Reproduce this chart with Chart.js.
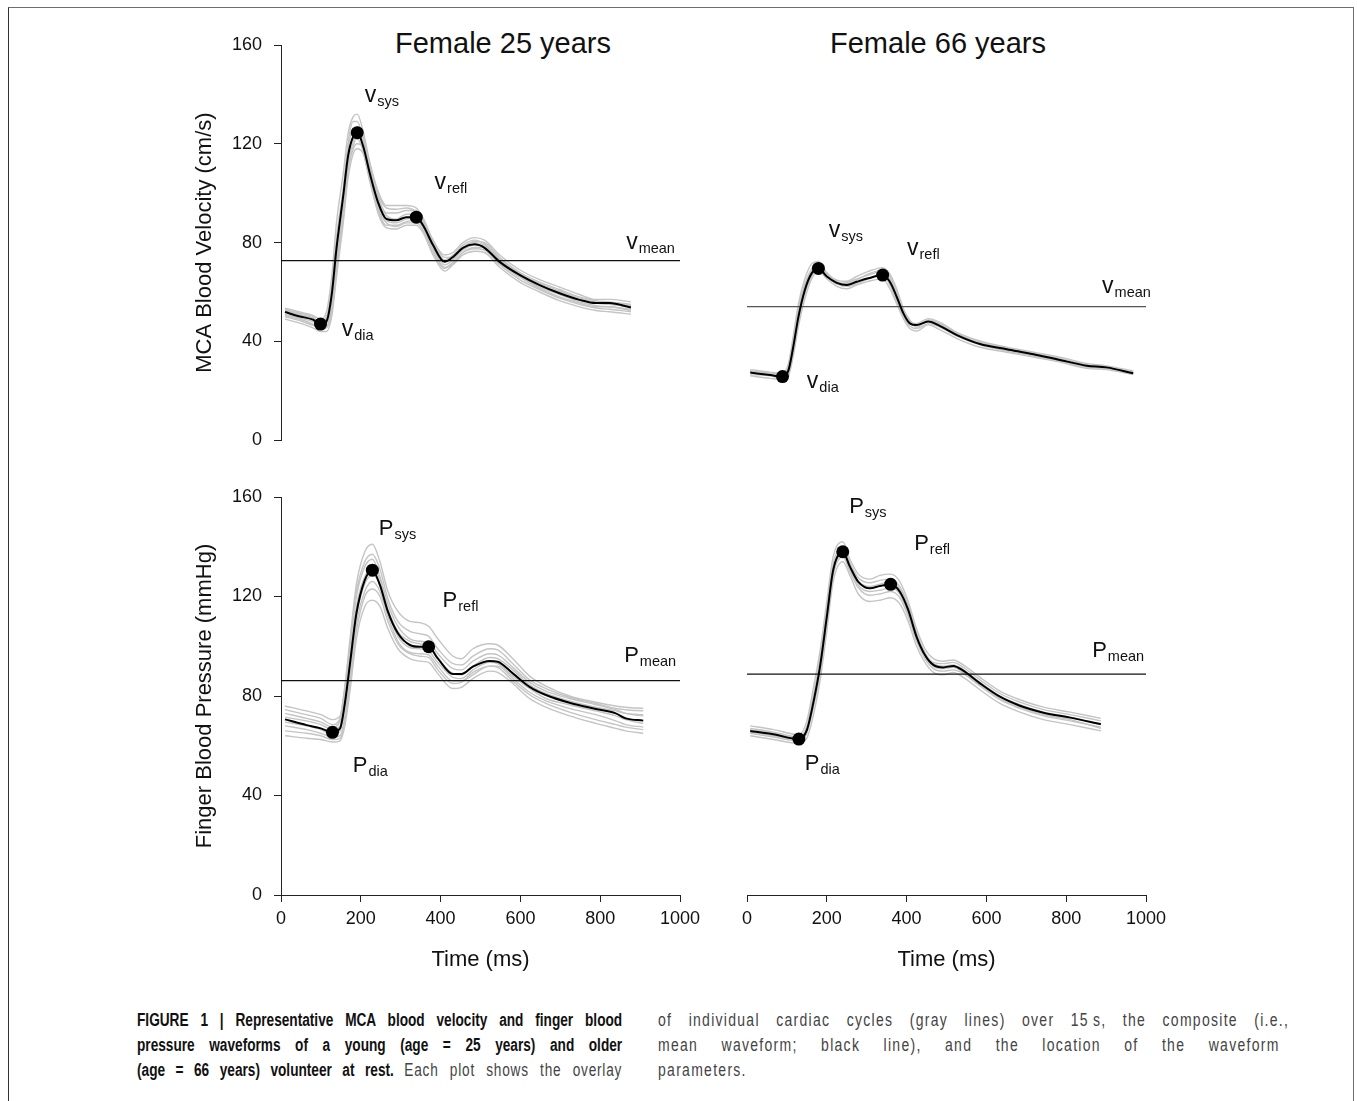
<!DOCTYPE html>
<html>
<head>
<meta charset="utf-8">
<title>MCA blood velocity and finger blood pressure waveforms</title>
<script src="https://cdn.jsdelivr.net/npm/chart.js@4.4.1/dist/chart.umd.min.js"></script>
<style>
  html, body { margin: 0; padding: 0; background: #fff; }
  body { width: 1357px; height: 1101px; position: relative; overflow: hidden;
         font-family: "Liberation Sans", Arial, Helvetica, sans-serif; color: #111; }
  .frame { position: absolute; left: 8px; top: 7px; width: 1346px; height: 1200px;
           box-sizing: border-box; border: 1.5px solid #6e6e6e; border-left-color: #333; }
  .panel { position: absolute; }
  .ptitle { position: absolute; width: 400px; text-align: center; font-size: 29px; line-height: 29px; color: #111; }
  .cap { position: absolute; font-family: "Liberation Sans", Arial, sans-serif;
         font-size: 17.5px; line-height: 25px; color: #444; transform-origin: 0 0; }
  .cap .ln { text-align: justify; text-align-last: justify; }
  .cap .ln.last { text-align: left; text-align-last: left; }
  .cap b { color: #111; letter-spacing: 0; }
  .cap.narrow { transform: scaleX(0.78); width: 622px; }
  .cap.narrow .reg { letter-spacing: 1px; }
  .cap.plain { transform: scaleX(0.8); width: 789px; letter-spacing: 1.6px; }
</style>
</head>
<body>
<div class="frame"></div>
<div class="ptitle" style="left:303px; top:29px;">Female 25 years</div>
<div class="ptitle" style="left:738px; top:29px;">Female 66 years</div>

<div class="cap narrow" style="left:137px; top:1008px;">
  <div class="ln"><b>FIGURE 1 | Representative MCA blood velocity and finger blood</b></div>
  <div class="ln"><b>pressure waveforms of a young (age = 25 years) and older</b></div>
  <div class="ln"><b>(age = 66 years) volunteer at rest.</b> <span class="reg">Each plot shows the overlay</span></div>
</div>
<div class="cap plain" style="left:658px; top:1008px;">
  <div class="ln">of individual cardiac cycles (gray lines) over 15&#8201;s, the composite (i.e.,</div>
  <div class="ln" style="width:777px;">mean waveform; black line), and the location of the waveform</div>
  <div class="ln last">parameters.</div>
</div>

<script>
// ---------- data (time in ms, velocity in cm/s, pressure in mmHg) ----------

// Young subject (25 years), MCA blood velocity
const velYoungTime = [10, 45, 80, 99, 114, 127, 139, 156, 168, 181, 191, 206, 222, 243, 264, 289, 314, 339, 356, 381, 410, 431, 456, 485, 510, 548, 598, 648, 698, 748, 789, 823, 877];
const velYoungComposite = [51.9, 50.2, 48.8, 47.0, 48.1, 58.8, 77.6, 99, 115, 123, 124.5, 119, 108.4, 96.4, 89.6, 89, 90.3, 90.3, 87, 79, 72.2, 74.2, 77.9, 79.3, 77.9, 72.2, 66.9, 62.8, 59.5, 56.8, 55.5, 55.5, 53.7];
const velYoungCycles = [
  [53.5, 52, 50.5, 49, 52, 66, 88, 108, 124, 131, 132, 125, 113, 101, 95, 95, 95, 94, 90, 81, 75, 76, 80, 82, 81, 75, 69, 65, 62, 59, 57, 57, 56],
  [49, 47.5, 45.5, 44, 44, 50, 66, 88, 106, 116, 118, 116, 106, 92, 86, 85.5, 87, 87, 84, 75, 68.5, 71, 75, 76.5, 76, 70, 64, 60, 56.5, 54, 52.5, 52, 51],
  [52.5, 51, 49.5, 47.5, 47.5, 54, 72, 94, 112, 121, 127, 123, 111, 99, 92, 92, 93, 93, 89, 81, 74, 74, 78, 80.5, 80, 74, 68, 64, 61, 58, 56.5, 56, 55],
  [51, 49.5, 48, 46, 46, 52, 70, 93, 114, 122, 122, 117, 105, 93, 87, 87, 88.5, 89, 86, 77, 70, 72, 76, 78, 78, 71.5, 66, 61.5, 58, 55.5, 54, 54, 52.5],
  [52, 51, 49, 48, 50, 62, 82, 102, 118, 126, 125, 120, 110, 98, 91, 89.5, 91.5, 91.5, 88, 80, 73, 75, 79, 81, 79.5, 73.5, 67.5, 63.5, 60.5, 57.5, 56, 55.5, 54.5],
  [50.5, 49, 47, 45, 45.5, 51, 68, 90, 109, 119, 123, 121, 108, 95, 89, 88, 89.5, 90, 87.5, 78, 71, 73, 77, 79, 78.5, 72.5, 66.5, 62, 59, 56, 54.5, 54, 53],
  [53, 51.5, 50, 47, 49, 58, 78, 100, 120, 129, 129, 122, 112, 100, 94, 93.5, 94, 92.5, 88.5, 79.5, 72.5, 73.5, 78, 80, 79, 73, 67, 63, 60, 57, 55.5, 55, 54],
  [50, 48.5, 46.5, 45.5, 46, 55, 74, 96, 110, 118, 120, 118, 107, 94, 88, 86.5, 88, 88, 85, 76, 69.5, 71.5, 76, 77.5, 77, 71, 65, 61, 57.5, 55, 53.5, 53, 52]
];
const velYoungMarkers = [[99, 47.0], [191, 124.5], [339, 90.3]];   // dia, sys, refl
const velYoungMean = 72.7;

// Older subject (66 years), MCA blood velocity
const velOlderTime = [8, 58, 89, 104, 116, 129, 145, 162, 179, 200, 225, 250, 275, 304, 340, 358, 375, 392, 408, 425, 454, 484, 526, 584, 651, 718, 784, 851, 901, 968];
const velOlderComposite = [28.3, 27.3, 26.7, 29.3, 38.7, 50.8, 61.5, 68.2, 70.2, 66.9, 64.4, 63.5, 64.8, 66.2, 67.5, 64.8, 58.8, 52.1, 48.1, 47.4, 48.8, 47.0, 43.4, 39.8, 37.7, 35.7, 33.4, 31.1, 30.4, 28.0];
const velOlderCycles = [
  [29.5, 28.5, 28, 32, 43, 56, 66, 72, 73, 68, 65.5, 65, 67, 69, 70.5, 68, 62, 54, 49, 48, 50, 48.5, 44.5, 41, 38.5, 36.5, 34.5, 32, 31, 29],
  [27, 26, 25.5, 27, 35, 47, 58, 66, 69, 66, 63, 62, 63.5, 65, 66, 62, 56, 50, 46, 45, 47.5, 45.5, 42, 38.5, 36.5, 34.5, 32.5, 30, 29.5, 27.5],
  [28.5, 27.5, 27, 30.5, 41, 53, 63, 69, 71.5, 67.5, 64, 64.5, 66, 67.5, 69, 66, 60, 53.5, 49.5, 46.5, 49.5, 48, 44, 40.5, 38, 36, 34, 31.5, 30.5, 28.5],
  [27.5, 27, 26, 28, 37, 49, 60, 67, 70, 67, 64, 63, 64, 66, 68, 63.5, 57, 51, 47, 46, 48, 46.5, 43, 39.5, 37, 35, 33, 30.5, 30, 27.8],
  [29, 28, 27.5, 31, 42, 54, 64, 70, 72, 68.5, 65, 64, 65.5, 68, 69.5, 67, 61, 52.5, 48.5, 47.5, 49, 47.5, 44, 40, 37.5, 35.5, 33.5, 31, 30, 28.5]
];
const velOlderMarkers = [[89, 26.7], [179, 70.2], [340, 67.5]];
const velOlderMean = 54.8;

// Young subject (25 years), finger blood pressure
const bpYoungTime = [10, 64, 100, 129, 148, 160, 173, 189, 210, 229, 248, 268, 293, 323, 348, 370, 393, 431, 452, 481, 523, 543, 581, 623, 664, 723, 789, 839, 864, 908];
const bpYoungComposite = [70.6, 68.3, 67, 65.4, 67, 77, 93.1, 113.2, 126.6, 130.6, 124.6, 113.9, 105.2, 100.5, 99.8, 99.8, 95.1, 88.8, 88.8, 91.8, 94.1, 93.8, 89.1, 83.7, 80.4, 77.3, 74.8, 73, 71, 70.1];
const bpYoungCycles = [
  [76, 74, 72.5, 70.5, 72, 84, 103, 125, 138, 141, 134, 122, 114, 110, 109.5, 108, 103, 96, 95, 99, 101, 100.5, 95, 88, 84, 80, 77.5, 76, 75.5, 75],
  [64, 63, 62.5, 61.5, 62, 68, 82, 103, 116, 118.5, 116, 107, 99, 95, 94, 93.5, 89, 83, 83.5, 87, 90, 89.5, 85, 79, 75.5, 72, 69, 67, 66, 65],
  [73, 71, 69.5, 67.5, 70, 82, 100, 120, 132, 135, 128, 117, 108, 103, 102, 101.5, 97, 91, 90.5, 94, 97, 96.5, 91.5, 85.5, 82, 79, 76.5, 74.5, 73, 72],
  [68, 66.5, 65, 63.5, 64, 72, 88, 109, 122, 126, 122, 112, 102, 97.5, 97, 96.5, 92, 86, 86, 89.5, 92, 92, 87, 81.5, 78, 75, 72.5, 70, 68.5, 67.5],
  [71.5, 70, 68.5, 66.5, 68, 79, 96, 116, 128, 131, 127, 115, 106, 102, 101, 100, 95, 89, 88.5, 92, 95.5, 95, 90.5, 84.5, 81, 78, 75.5, 74, 73, 72.5],
  [66, 65, 64, 62.5, 63, 70, 85, 106, 120, 123, 120, 110, 101, 97, 96, 95.5, 90.5, 85, 85.5, 88.5, 92, 91.5, 86, 80.5, 77, 73.5, 70.5, 68.5, 67.5, 66.5],
  [74.5, 72.5, 71, 68.5, 71, 83, 101, 122, 134, 137, 131, 119, 110, 106, 105, 104, 99, 93, 92.5, 96, 99, 98.5, 93, 86.5, 83, 79.5, 77, 75, 74.5, 74],
  [69.5, 68, 66.5, 64.5, 66, 75, 92, 112, 125, 128.5, 125, 114, 104, 99.5, 99, 98, 93.5, 87.5, 87, 90.5, 93.5, 93, 88, 83, 79, 76.5, 74, 72, 70.5, 69]
];
const bpYoungMarkers = [[129, 65.4], [229, 130.6], [370, 99.8]];
const bpYoungMean = 86.2;

// Older subject (66 years), finger blood pressure
const bpOlderTime = [8, 66, 130, 150, 166, 183, 200, 216, 240, 258, 279, 308, 333, 360, 383, 404, 425, 446, 467, 492, 517, 542, 584, 634, 684, 743, 810, 887];
const bpOlderComposite = [65.9, 64.6, 62.7, 66.3, 77.1, 91.8, 111.8, 130.6, 138, 132, 125.9, 123.3, 124.2, 124.9, 121.9, 114.6, 103.8, 96.5, 92.5, 91.5, 92.1, 90.2, 85.1, 79.7, 76.1, 73.3, 71.3, 68.7];
const bpOlderCycles = [
  [68, 66.5, 64.5, 70, 83, 98, 118, 136, 142, 135, 129, 127, 128.5, 129, 126, 118, 107, 99, 95, 94, 94.5, 92.5, 87.5, 82, 78.5, 75.5, 73.5, 71],
  [64, 62.5, 61, 63, 72, 86, 106, 126, 134, 128.5, 121, 118, 118.5, 119.5, 117, 110, 100, 93.5, 89.5, 88.5, 89.5, 87.5, 82.5, 77, 73.5, 70.5, 68.5, 66],
  [67, 65.5, 63.5, 68, 80, 95, 115, 133, 140, 133.5, 127.5, 125.5, 126.5, 127, 124, 116.5, 105.5, 97.5, 93.5, 93, 93.5, 91.5, 86.5, 81, 77.5, 74.5, 72.5, 70],
  [65, 63.5, 62, 65, 75, 89, 109, 128.5, 136, 130, 123.5, 120.5, 121, 122, 119.5, 112, 102, 95, 91, 90, 90.5, 89, 84, 78.5, 75, 72, 70, 67.5],
  [66.5, 65, 63, 67, 78, 93, 113, 131, 139, 132, 126, 124, 125, 126, 123, 115.5, 104.5, 97, 93, 92, 92.5, 90.5, 85.5, 80, 76.5, 73.5, 71.5, 68.5],
  [65.5, 64, 62.5, 66, 76, 90, 110, 129.5, 137, 131, 124.5, 122, 122.5, 123.5, 121, 113, 103, 96, 92, 91, 91.5, 89.5, 84.5, 79, 75.5, 72.5, 70.5, 67]
];
const bpOlderMarkers = [[130, 62.7], [240, 138], [360, 124.9]];
const bpOlderMean = 88.8;

// Axis ticks
const timeTicks = [0, 200, 400, 600, 800, 1000];
const valueTicks = [0, 40, 80, 120, 160];

// ---------- drawing ----------
const FAMILY = '"Liberation Sans", Arial, Helvetica, sans-serif';
const INK = '#111';

// Parameter labels (letter with subscript), anchored in data units
const subLabelPlugin = {
  id: 'subLabels',
  afterDatasetsDraw(chart, args, opts) {
    const { ctx } = chart;
    const xs = chart.scales.x, ys = chart.scales.y;
    (opts.items || []).forEach(it => {
      const px = xs.getPixelForValue(it.x);
      const py = ys.getPixelForValue(it.y);
      ctx.save();
      ctx.fillStyle = INK;
      ctx.textAlign = 'left';
      ctx.textBaseline = 'alphabetic';
      ctx.font = (it.main === 'v' ? '23px ' : '22px ') + FAMILY;
      ctx.fillText(it.main, px, py);
      const w = ctx.measureText(it.main).width;
      ctx.font = '14.5px ' + FAMILY;
      ctx.fillText(it.sub, px + w + 1, py + 4);
      ctx.restore();
    });
  }
};

function toPoints(time, values) {
  return time.map((t, i) => ({ x: t, y: values[i] }));
}

function makePanel(p) {
  const holder = document.createElement('div');
  holder.className = 'panel';
  holder.style.left = p.box.x + 'px';
  holder.style.top = p.box.y + 'px';
  holder.style.width = p.box.w + 'px';
  holder.style.height = p.box.h + 'px';
  const canvas = document.createElement('canvas');
  canvas.width = p.box.w;
  canvas.height = p.box.h;
  canvas.style.width = p.box.w + 'px';
  canvas.style.height = p.box.h + 'px';
  holder.appendChild(canvas);
  document.body.appendChild(holder);

  const datasets = [
    {
      label: 'parameters', data: p.markers.map(m => ({ x: m[0], y: m[1] })),
      showLine: false, pointRadius: 6.5, pointBackgroundColor: '#000',
      pointBorderColor: '#000', pointBorderWidth: 0, order: 0
    },
    {
      label: 'composite', data: toPoints(p.time, p.composite),
      borderColor: '#000', borderWidth: 2, pointRadius: 0,
      cubicInterpolationMode: 'monotone', order: 1
    },
    {
      label: 'mean', data: [{ x: 0, y: p.mean }, { x: 1000, y: p.mean }],
      borderColor: p.meanColor, borderWidth: 1.3, pointRadius: 0, order: 2
    }
  ];
  p.cycles.forEach((c, k) => datasets.push({
    label: 'cycle ' + (k + 1), data: toPoints(p.time, c),
    borderColor: '#c4c4c4', borderWidth: 1.4, pointRadius: 0,
    cubicInterpolationMode: 'monotone', order: 3
  }));

  const xScale = {
    type: 'linear', min: 0, max: 1000, display: p.showX,
    afterBuildTicks: s => { s.ticks = timeTicks.map(v => ({ value: v })); },
    ticks: { color: INK, font: { size: 18, family: FAMILY }, padding: 6, maxRotation: 0, autoSkip: false,
             callback: v => String(v) },
    grid: { display: true, drawOnChartArea: false, drawTicks: true, tickLength: 7, color: '#222', lineWidth: 1 },
    border: { display: true, color: '#222', width: 1 },
    title: { display: true, text: 'Time (ms)', color: INK, font: { size: 22, family: FAMILY }, padding: { top: 4, bottom: 4 } }
  };
  if (p.showX) xScale.afterFit = s => { s.height = 82; };

  const yScale = {
    type: 'linear', min: 0, max: 160, display: p.showY,
    afterBuildTicks: s => { s.ticks = valueTicks.map(v => ({ value: v })); },
    ticks: { color: INK, font: { size: 18, family: FAMILY }, padding: 12, callback: v => String(v) },
    grid: { display: true, drawOnChartArea: false, drawTicks: true, tickLength: 7, color: '#222', lineWidth: 1 },
    border: { display: true, color: '#222', width: 1 },
    title: { display: true, text: p.yTitle || '', color: INK, font: { size: 22, family: FAMILY }, padding: { top: 4, bottom: 4 } }
  };
  if (p.showY) yScale.afterFit = s => { s.width = 93; };

  new Chart(canvas, {
    type: 'line',
    data: { datasets },
    options: {
      responsive: false,
      animation: false,
      events: [],
      layout: { padding: p.pad },
      scales: { x: xScale, y: yScale },
      plugins: {
        legend: { display: false },
        tooltip: { enabled: false },
        subLabels: { items: p.labels }
      }
    },
    plugins: [subLabelPlugin]
  });
}

makePanel({
  box: { x: 150, y: 10, w: 560, h: 453 },
  pad: { left: 38, top: 35, right: 30, bottom: 20 },
  showX: false, showY: true, yTitle: 'MCA Blood Velocity (cm/s)',
  time: velYoungTime, composite: velYoungComposite, cycles: velYoungCycles,
  markers: velYoungMarkers, mean: velYoungMean, meanColor: '#111',
  labels: [
    { main: 'v', sub: 'sys', x: 210, y: 137.1 },
    { main: 'v', sub: 'refl', x: 385, y: 101.7 },
    { main: 'v', sub: 'dia', x: 152, y: 42.2 },
    { main: 'v', sub: 'mean', x: 865, y: 77.6 }
  ]
});

makePanel({
  box: { x: 700, y: 10, w: 476, h: 453 },
  pad: { left: 47, top: 35, right: 30, bottom: 20 },
  showX: false, showY: false,
  time: velOlderTime, composite: velOlderComposite, cycles: velOlderCycles,
  markers: velOlderMarkers, mean: velOlderMean, meanColor: '#555',
  labels: [
    { main: 'v', sub: 'sys', x: 205, y: 82.8 },
    { main: 'v', sub: 'refl', x: 401, y: 75.6 },
    { main: 'v', sub: 'dia', x: 150, y: 22.1 },
    { main: 'v', sub: 'mean', x: 890, y: 60.3 }
  ]
});

makePanel({
  box: { x: 150, y: 460, w: 560, h: 525 },
  pad: { left: 38, top: 37, right: 30, bottom: 8 },
  showX: true, showY: true, yTitle: 'Finger Blood Pressure (mmHg)',
  time: bpYoungTime, composite: bpYoungComposite, cycles: bpYoungCycles,
  markers: bpYoungMarkers, mean: bpYoungMean, meanColor: '#111',
  labels: [
    { main: 'P', sub: 'sys', x: 245, y: 144.7 },
    { main: 'P', sub: 'refl', x: 405, y: 115.8 },
    { main: 'P', sub: 'dia', x: 180, y: 49.4 },
    { main: 'P', sub: 'mean', x: 860, y: 93.7 }
  ]
});

makePanel({
  box: { x: 700, y: 460, w: 476, h: 525 },
  pad: { left: 47, top: 37, right: 30, bottom: 8 },
  showX: true, showY: false,
  time: bpOlderTime, composite: bpOlderComposite, cycles: bpOlderCycles,
  markers: bpOlderMarkers, mean: bpOlderMean, meanColor: '#111',
  labels: [
    { main: 'P', sub: 'sys', x: 256, y: 153.6 },
    { main: 'P', sub: 'refl', x: 419, y: 138.7 },
    { main: 'P', sub: 'dia', x: 145, y: 50.3 },
    { main: 'P', sub: 'mean', x: 865, y: 95.7 }
  ]
});
</script>
</body>
</html>
